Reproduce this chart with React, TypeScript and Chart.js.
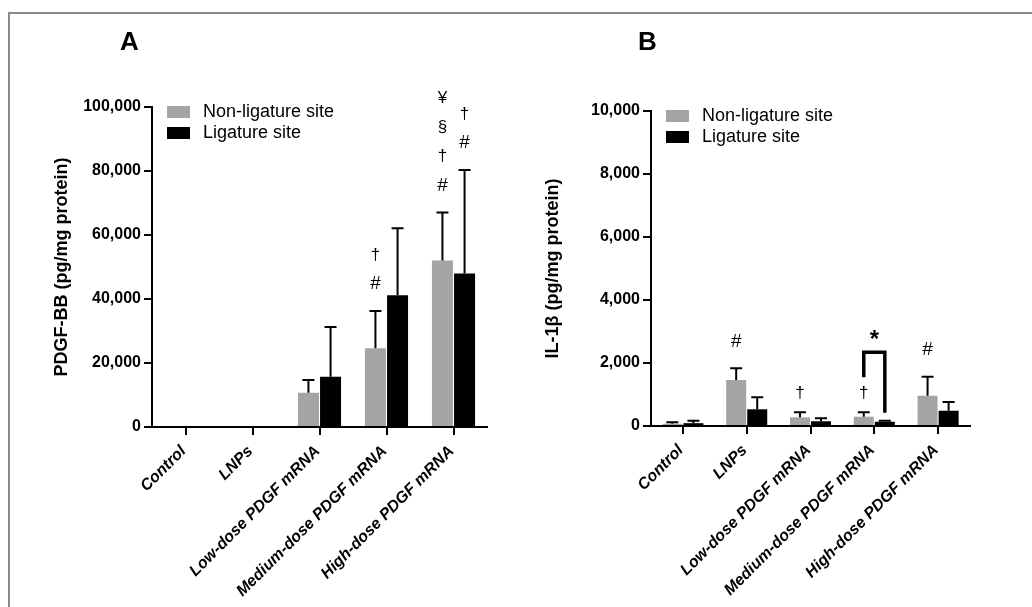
import React, { useEffect, useRef } from "react";
import { Chart, registerables } from "chart.js";

Chart.register(...registerables);

// ---------------- data ----------------
const categories = [
  "Control",
  "LNPs",
  "Low-dose PDGF mRNA",
  "Medium-dose PDGF mRNA",
  "High-dose PDGF mRNA",
];
const seriesNames = ["Non-ligature site", "Ligature site"];
const seriesColors = ["#a4a4a7", "#000000"];

// Panel A: PDGF-BB
const pdgfNonLig = [0, 0, 10700, 24600, 52000];
const pdgfNonLigSD = [0, 0, 4000, 11650, 15000];
const pdgfLig = [0, 0, 15700, 41150, 48000];
const pdgfLigSD = [0, 0, 15550, 20950, 32300];
const pdgfNonLigMarks = [[], [], [], ["#", "†"], ["#", "†", "§", "¥"]];
const pdgfLigMarks = [[], [], [], [], ["#", "†"]];
const pdgfTicks = [0, 20000, 40000, 60000, 80000, 100000];

// Panel B: IL-1β
const il1bNonLig = [70, 1460, 275, 295, 960];
const il1bNonLigSD = [50, 370, 160, 140, 605];
const il1bLig = [90, 530, 150, 135, 485];
const il1bLigSD = [80, 380, 95, 35, 275];
const il1bNonLigMarks = [[], ["#"], ["†"], ["†"], ["#"]];
const il1bLigMarks = [[], [], [], [], []];
const il1bTicks = [0, 2000, 4000, 6000, 8000, 10000];
const il1bBracketIndex = 3;
const il1bBracketLabel = "*";

const FONT = "'Liberation Sans', Arial, sans-serif";

const fmt = (v: number) => v.toLocaleString("en-US");

const overlayPlugin = {
  id: "overlay",
  afterDatasetsDraw(chart: any, _args: any, opts: any) {
    const { ctx, chartArea } = chart;
    const y = chart.scales.y;
    ctx.save();
    const errTops: number[][] = [];
    chart.data.datasets.forEach((ds: any, di: number) => {
      const meta = chart.getDatasetMeta(di);
      errTops[di] = [];
      meta.data.forEach((bar: any, i: number) => {
        const v = ds.data[i];
        const sd = opts.sds[di][i];
        const x = bar.x;
        const yTop = y.getPixelForValue(v);
        const yErr = y.getPixelForValue(v + sd);
        errTops[di][i] = yErr;
        if (sd > 0) {
          ctx.strokeStyle = "#000";
          ctx.lineWidth = 2;
          ctx.beginPath();
          ctx.moveTo(x, yTop);
          ctx.lineTo(x, yErr);
          ctx.moveTo(x - 6, yErr);
          ctx.lineTo(x + 6, yErr);
          ctx.stroke();
        }
        const marks: string[] = opts.marks[di][i] || [];
        let cy = yErr;
        marks.forEach((m: string, k: number) => {
          if (k === 0) cy -= m === "#" ? 27 : 19;
          else cy -= 29;
          ctx.fillStyle = "#000";
          ctx.textAlign = "center";
          ctx.textBaseline = "middle";
          ctx.font = m === "#" ? `19px ${FONT}` : `17px ${FONT}`;
          ctx.fillText(m, x, cy);
        });
      });
    });
    if (opts.bracket) {
      const i = opts.bracket.index;
      const b0 = chart.getDatasetMeta(0).data[i];
      const b1 = chart.getDatasetMeta(1).data[i];
      const lb = errTops[0][i] - 35;
      const rb = errTops[1][i] - 8;
      const top = Math.min(lb, rb) - 25;
      ctx.strokeStyle = "#000";
      ctx.lineWidth = 3.5;
      ctx.lineJoin = "miter";
      ctx.beginPath();
      ctx.moveTo(b0.x, lb);
      ctx.lineTo(b0.x, top);
      ctx.lineTo(b1.x, top);
      ctx.lineTo(b1.x, rb);
      ctx.stroke();
      ctx.fillStyle = "#000";
      ctx.textAlign = "center";
      ctx.textBaseline = "middle";
      ctx.font = `bold 24px ${FONT}`;
      ctx.fillText(opts.bracket.label, (b0.x + b1.x) / 2, top - 12);
    }
    // legend
    chart.data.datasets.forEach((ds: any, di: number) => {
      const cy = chartArea.top + 5 + di * 21;
      ctx.fillStyle = ds.backgroundColor;
      ctx.fillRect(chartArea.left + 15, cy - 6, 23, 12);
      ctx.fillStyle = "#000";
      ctx.textAlign = "left";
      ctx.textBaseline = "middle";
      ctx.font = `18px ${FONT}`;
      ctx.fillText(ds.label, chartArea.left + 51, cy);
    });
    ctx.restore();
  },
};

function makeConfig(
  nonLig: number[],
  lig: number[],
  sds: number[][],
  marks: string[][][],
  ticks: number[],
  title: string,
  yWidth: number,
  titlePad: number,
  padRight: number,
  padTop: number,
  xHeight: number,
  bracket: any
): any {
  return {
    type: "bar",
    data: {
      labels: categories,
      datasets: [
        { label: seriesNames[0], data: nonLig, backgroundColor: seriesColors[0] },
        { label: seriesNames[1], data: lig, backgroundColor: seriesColors[1] },
      ],
    },
    plugins: [overlayPlugin],
    options: {
      animation: false,
      responsive: false,
      devicePixelRatio: 1,
      layout: { padding: { top: padTop, right: padRight, left: 0, bottom: 0 } },
      datasets: { bar: { categoryPercentage: 0.66, barPercentage: 0.95 } },
      plugins: {
        legend: { display: false },
        tooltip: { enabled: false },
        overlay: { sds, marks, bracket },
      },
      scales: {
        x: {
          offset: true,
          afterFit: (s: any) => {
            s.height = xHeight;
          },
          grid: {
            display: true,
            offset: false,
            drawOnChartArea: false,
            drawTicks: true,
            tickLength: 8,
            color: "#000",
            lineWidth: 2,
          },
          border: { display: true, color: "#000", width: 2 },
          ticks: {
            color: "#000",
            minRotation: 45,
            maxRotation: 45,
            autoSkip: false,
            padding: 7,
            labelOffset: -2,
            font: { family: FONT, size: 16, weight: "bold", style: "italic" },
          },
        },
        y: {
          min: ticks[0],
          max: ticks[ticks.length - 1],
          afterFit: (s: any) => {
            s.width = yWidth;
          },
          afterBuildTicks: (s: any) => {
            s.ticks = ticks.map((v) => ({ value: v }));
          },
          grid: {
            display: true,
            drawOnChartArea: false,
            drawTicks: true,
            tickLength: 8,
            color: "#000",
            lineWidth: 2,
          },
          border: { display: true, color: "#000", width: 2 },
          ticks: {
            color: "#000",
            padding: 3,
            callback: (v: any) => fmt(Number(v)),
            font: { family: FONT, size: 16, weight: "bold" },
          },
          title: {
            display: true,
            text: title,
            color: "#000",
            padding: { top: titlePad, bottom: 0 },
            font: { family: FONT, size: 18, weight: "bold" },
          },
        },
      },
    },
  };
}

function Panel(props: { config: any; left: number; letter: string; letterLeft: number }) {
  const ref = useRef<HTMLCanvasElement | null>(null);
  useEffect(() => {
    if (!ref.current) return;
    const chart = new Chart(ref.current, props.config);
    return () => chart.destroy();
  }, []);
  return (
    <>
      <div
        style={{
          position: "absolute",
          left: props.left,
          top: 0,
          width: 516,
          height: 607,
        }}
      >
        <canvas ref={ref} width={516} height={607} style={{ width: 516, height: 607 }} />
      </div>
      <div
        style={{
          position: "absolute",
          left: props.letterLeft,
          top: 28,
          font: `bold 26px ${FONT}`,
          lineHeight: "26px",
          color: "#000",
        }}
      >
        {props.letter}
      </div>
    </>
  );
}

export default function App() {
  useEffect(() => {
    document.body.style.margin = "0";
  }, []);
  const configA = makeConfig(
    pdgfNonLig,
    pdgfLig,
    [pdgfNonLigSD, pdgfLigSD],
    [pdgfNonLigMarks, pdgfLigMarks],
    pdgfTicks,
    "PDGF-BB (pg/mg protein)",
    152,
    51,
    29,
    107,
    180,
    null
  );
  const configB = makeConfig(
    il1bNonLig,
    il1bLig,
    [il1bNonLigSD, il1bLigSD],
    [il1bNonLigMarks, il1bLigMarks],
    il1bTicks,
    "IL-1β (pg/mg protein)",
    135,
    26,
    62,
    111,
    181,
    { index: il1bBracketIndex, label: il1bBracketLabel }
  );
  return (
    <div
      style={{
        position: "relative",
        width: 1032,
        height: 607,
        overflow: "hidden",
        background: "#fff",
      }}
    >
      <div
        style={{
          position: "absolute",
          left: 8,
          top: 12,
          width: 1100,
          height: 700,
          borderTop: "2px solid #8a8a8a",
          borderLeft: "2px solid #8a8a8a",
        }}
      />
      <Panel config={configA} left={0} letter="A" letterLeft={120} />
      <Panel config={configB} left={516} letter="B" letterLeft={638} />
    </div>
  );
}
